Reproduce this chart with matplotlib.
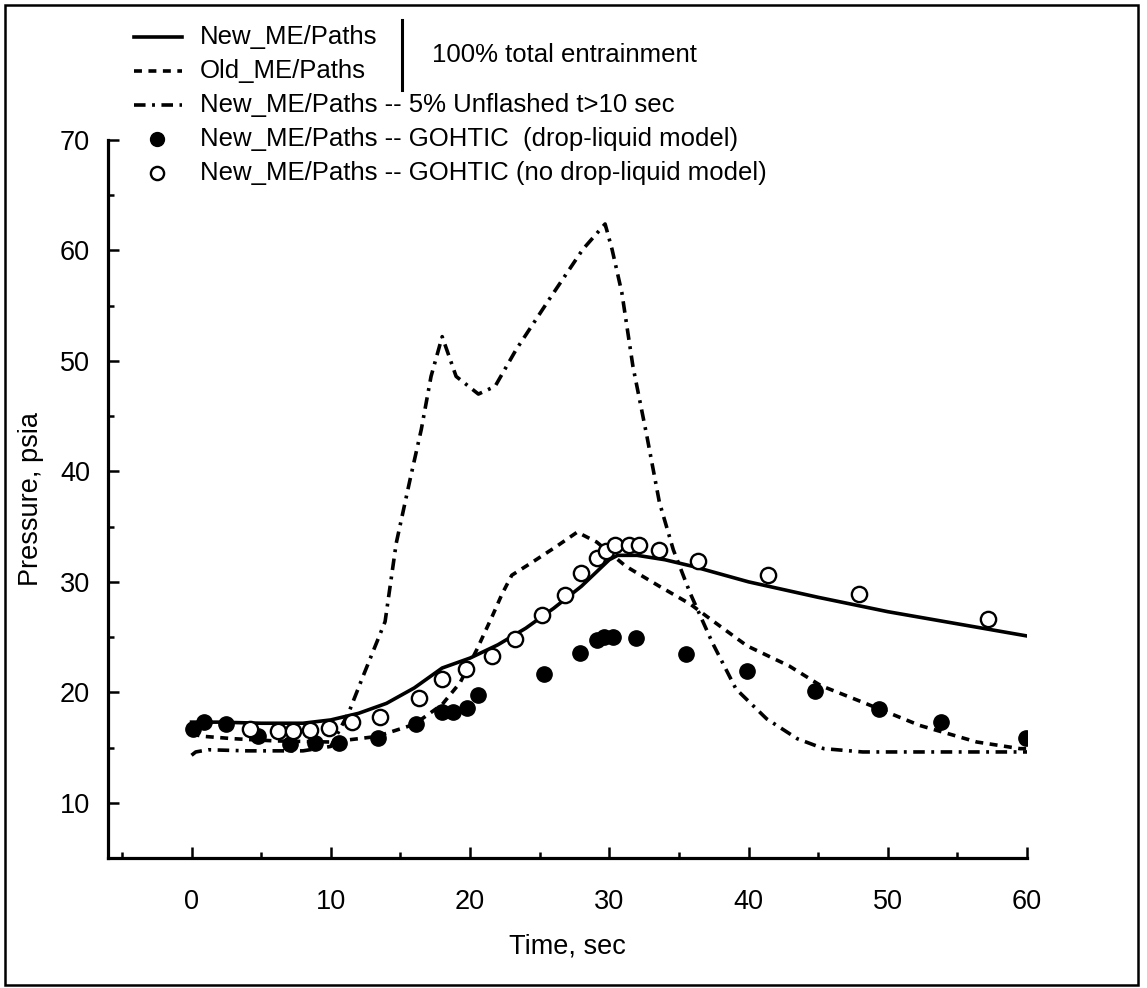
"""Pressure transient: New_ME/Paths vs Old_ME/Paths and GOTHIC comparisons."""

import matplotlib

matplotlib.use("Agg")
import matplotlib.pyplot as plt
from matplotlib.lines import Line2D
from matplotlib.patches import Rectangle
from matplotlib.ticker import MultipleLocator

# --- data ------------------------------------------------------------------
new_t = [0, 2, 5, 8, 10, 12, 14, 16, 18, 20, 22, 24, 26, 28, 30, 30.6, 32,
         34, 36, 40, 45, 50, 55, 60]
new_p = [17.3, 17.3, 17.2, 17.2, 17.5, 18.1, 19.0, 20.4, 22.2, 23.1, 24.3,
         25.8, 27.6, 29.6, 32.0, 32.4, 32.4, 32.0, 31.4, 30.0, 28.6, 27.3,
         26.2, 25.1]

old_t = [0, 1, 3, 6, 10, 13.3, 16, 18, 19.3, 20.5, 21.6, 22.3, 23.0, 24.5,
         26.2, 27.7, 29.1, 31.2, 33.6, 35.8, 37.4, 39.9, 42.9, 45.2, 48.2,
         52.3, 56.4, 59.5, 60]
old_p = [16.2, 16.0, 15.8, 15.6, 15.5, 16.0, 17.1, 18.9, 20.9, 23.9, 26.9,
         28.9, 30.6, 31.8, 33.2, 34.5, 33.6, 31.4, 29.6, 28.0, 26.5, 24.2,
         22.4, 20.6, 19.1, 17.0, 15.5, 14.9, 14.9]

unfl_t = [0, 0.3, 1.2, 4, 8, 10, 11.3, 12.3, 13.9, 14.7, 15.7, 16.5, 17.2,
          18.0, 19.0, 20.6, 21.8, 23.3, 25.7, 28.1, 29.7, 30.2, 30.9, 31.7,
          32.7, 33.6, 34.6, 35.8, 37.4, 39.1, 41.3, 43.5, 45.4, 48.2, 55, 60]
unfl_p = [14.3, 14.6, 14.8, 14.7, 14.7, 15.1, 18.2, 21.4, 26.4, 33.5, 39.3,
          43.8, 48.6, 52.2, 48.6, 47.0, 47.7, 51.0, 55.6, 60.1, 62.4, 60.1,
          56.2, 49.5, 43.2, 37.2, 32.9, 29.0, 24.5, 20.3, 17.6, 15.8, 14.9,
          14.6, 14.6, 14.6]

drop_t = [0.1, 0.9, 2.5, 4.8, 7.1, 8.9, 10.6, 13.4, 16.1, 18.0, 18.8, 19.8,
          20.6, 25.3, 27.9, 29.1, 29.6, 30.3, 31.9, 35.5, 39.9, 44.8, 49.4,
          53.8, 59.9]
drop_p = [16.7, 17.3, 17.1, 16.0, 15.3, 15.4, 15.4, 15.9, 17.1, 18.2, 18.2,
          18.6, 19.8, 21.7, 23.6, 24.7, 25.0, 25.0, 24.9, 23.5, 21.9, 20.1,
          18.5, 17.3, 15.9]

nodrop_t = [4.2, 6.2, 7.3, 8.5, 9.9, 11.5, 13.5, 16.3, 18.0, 19.7, 21.6,
            23.2, 25.2, 26.8, 28.0, 29.1, 29.8, 30.4, 31.4, 32.1, 33.6, 36.4,
            41.4, 47.9, 57.2]
nodrop_p = [16.7, 16.5, 16.5, 16.6, 16.8, 17.3, 17.8, 19.5, 21.2, 22.1, 23.3,
            24.8, 27.0, 28.8, 30.8, 32.2, 32.8, 33.3, 33.3, 33.3, 32.9, 31.9,
            30.6, 28.9, 26.6]

legend_labels = [
    "New_ME/Paths",
    "Old_ME/Paths",
    "New_ME/Paths -- 5% Unflashed t>10 sec",
    "New_ME/Paths -- GOHTIC  (drop-liquid model)",
    "New_ME/Paths -- GOHTIC (no drop-liquid model)",
]
group_note = "100% total entrainment"

W, H, DPI = 1147, 988, 100
LW = 2.6
DASHED = (0, (2.2, 1.8))
DASHDOT = (0, (3.2, 1.8, 0.8, 1.8))

plt.rcParams.update({"font.family": ["Liberation Sans", "DejaVu Sans"],
                     "font.size": 18})

fig = plt.figure(figsize=(W / DPI, H / DPI), dpi=DPI)
ax = fig.add_axes([108 / W, 1 - 858 / H, (1027 - 108) / W, (858 - 140) / H])


def fx(px):
    return px / W


def fy(py):
    return 1 - py / H


ax.plot(unfl_t, unfl_p, color="black", lw=LW, linestyle=DASHDOT, zorder=2)
ax.plot(old_t, old_p, color="black", lw=LW, linestyle=DASHED, zorder=2)
ax.plot(new_t, new_p, color="black", lw=LW, zorder=3)
ax.plot(drop_t, drop_p, "o", color="black", markersize=11, zorder=4)
ax.plot(nodrop_t, nodrop_p, "o", markerfacecolor="white",
        markeredgecolor="black", markeredgewidth=1.7, markersize=11, zorder=5)

ax.set_xlim(-6, 60)
ax.set_ylim(5, 70)
ax.xaxis.set_major_locator(MultipleLocator(10))
ax.xaxis.set_minor_locator(MultipleLocator(5))
ax.yaxis.set_major_locator(MultipleLocator(10))
ax.yaxis.set_minor_locator(MultipleLocator(5))
ax.tick_params(which="both", direction="in", width=1.8, colors="black")
ax.tick_params(which="major", length=8)
ax.tick_params(which="minor", length=4)
ax.tick_params(axis="y", which="major", pad=13, labelsize=19.5)
ax.tick_params(axis="x", which="major", pad=22, labelsize=19.5)
ax.spines[["top", "right"]].set_visible(False)
for side in ("left", "bottom"):
    ax.spines[side].set_linewidth(2.3)

ax.set_xlabel("Time, sec", fontsize=19.5)
ax.xaxis.set_label_coords(0.5, -0.105)
ax.set_ylabel("Pressure, psia", fontsize=19.5)
ax.yaxis.set_label_coords(-0.07, 0.5)

# --- hand-built legend above the axes --------------------------------------
row_y = [37, 71, 105, 139, 173]
styles = [
    dict(linestyle="-", lw=LW),
    dict(linestyle=DASHED, lw=LW),
    dict(linestyle=DASHDOT, lw=LW),
]
for y, style in zip(row_y[:3], styles):
    fig.add_artist(Line2D([fx(134), fx(182)], [fy(y), fy(y)], color="black",
                          transform=fig.transFigure, **style))
fig.add_artist(Line2D([fx(157)], [fy(row_y[3])], marker="o", color="black",
                      markersize=10, linestyle="none",
                      transform=fig.transFigure))
fig.add_artist(Line2D([fx(157)], [fy(row_y[4])], marker="o",
                      markerfacecolor="white", markeredgecolor="black",
                      markeredgewidth=1.7, markersize=9.5, linestyle="none",
                      transform=fig.transFigure))
for y, label in zip(row_y, legend_labels):
    fig.text(fx(200), fy(y), label, fontsize=18.5, va="center", ha="left")

fig.add_artist(Line2D([fx(402), fx(402)], [fy(20), fy(90)], color="black",
                      lw=2.2, transform=fig.transFigure))
fig.text(fx(432), fy(55), group_note, fontsize=18.5, va="center", ha="left")

# outer frame of the original figure
fig.add_artist(Rectangle((fx(5), fy(985)), fx(1138) - fx(5), fy(5) - fy(985),
                         fill=False, edgecolor="black", lw=1.8,
                         transform=fig.transFigure))

fig.savefig("out.png", dpi=DPI, facecolor="white")
